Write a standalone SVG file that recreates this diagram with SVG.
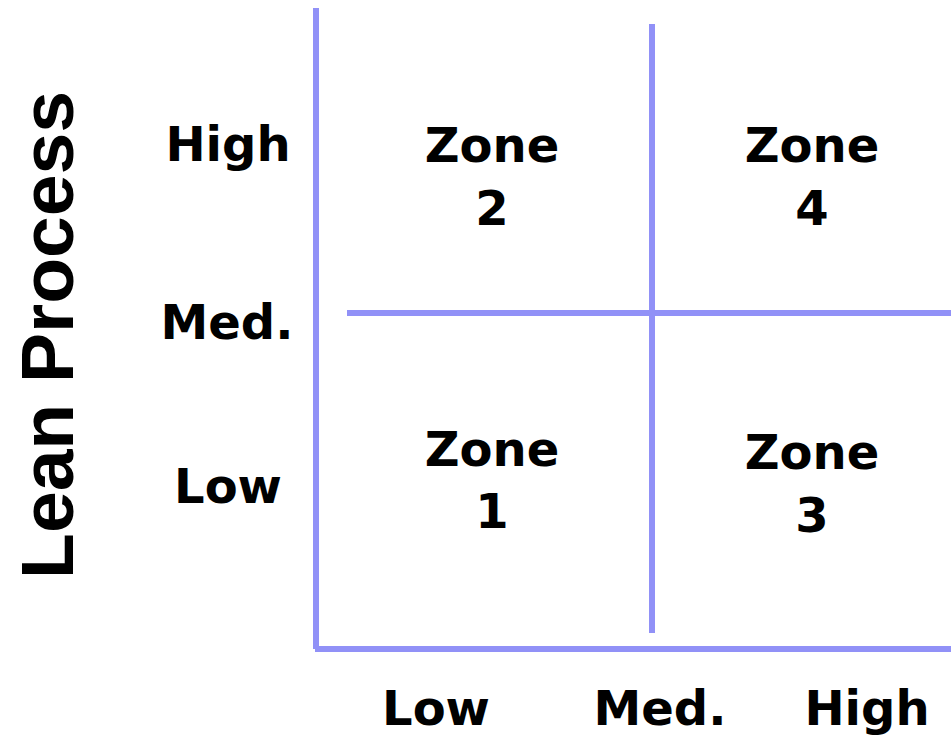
<svg xmlns="http://www.w3.org/2000/svg" width="951" height="736" viewBox="0 0 951 736">
<style>
.ln{stroke:#9191f7;stroke-width:6;fill:none;stroke-linecap:butt}
.t{font-family:"DejaVu Sans","Verdana",sans-serif;font-weight:bold;font-size:48px;fill:#000;text-anchor:middle}
.title{font-family:"Liberation Sans","Arial",sans-serif;font-weight:bold;font-size:75px;fill:#000;text-anchor:middle}
</style>
<rect width="951" height="736" fill="#fff"/>
<g id="connectors">
<line class="ln" x1="316" y1="8" x2="316" y2="649"/>
<line class="ln" x1="315" y1="649" x2="951" y2="649"/>
<line class="ln" x1="652" y1="24" x2="652" y2="633"/>
<line class="ln" x1="347" y1="313" x2="951" y2="313"/>
</g>
<g id="axis-y-title"><text class="title" transform="translate(73,335) rotate(-90)">Lean Process</text></g>
<g id="y-high"><text class="t" x="228" y="161">High</text></g>
<g id="y-med"><text class="t" x="227" y="339">Med.</text></g>
<g id="y-low"><text class="t" x="228" y="503">Low</text></g>
<g id="zone2"><text class="t" x="492" y="162">Zone</text><text class="t" x="492" y="225">2</text></g>
<g id="zone4"><text class="t" x="812" y="162">Zone</text><text class="t" x="812" y="225">4</text></g>
<g id="zone1"><text class="t" x="492" y="466">Zone</text><text class="t" x="492" y="528">1</text></g>
<g id="zone3"><text class="t" x="812" y="469">Zone</text><text class="t" x="812" y="532">3</text></g>
<g id="x-low"><text class="t" x="436" y="725">Low</text></g>
<g id="x-med"><text class="t" x="660" y="725">Med.</text></g>
<g id="x-high"><text class="t" x="867" y="725">High</text></g>
</svg>
